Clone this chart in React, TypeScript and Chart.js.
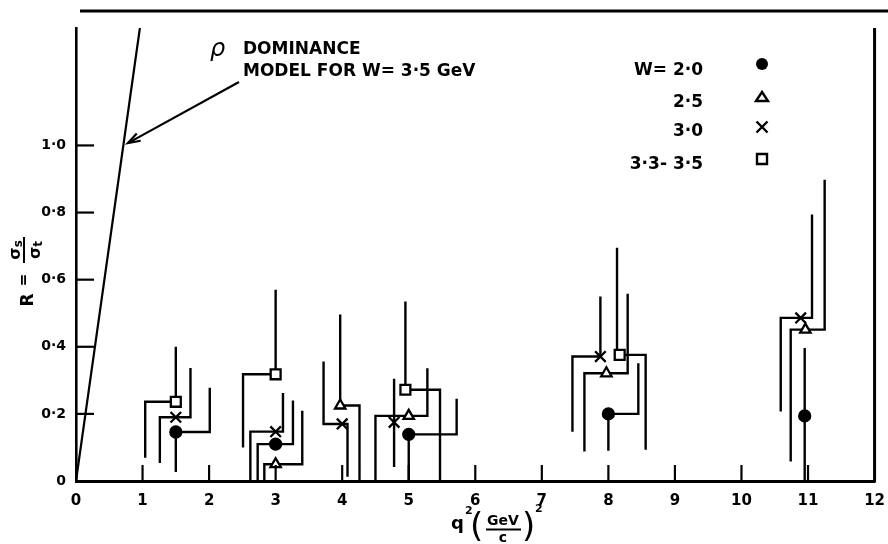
import React, { useEffect, useRef } from "react";
import { Chart, registerables } from "chart.js";

Chart.register(...registerables);

const FONT = '"DejaVu Sans", "Liberation Sans", sans-serif';

// axes
const X_TICKS = [0, 1, 2, 3, 4, 5, 6, 7, 8, 9, 10, 11, 12];
const Y_TICKS = [0, 0.2, 0.4, 0.6, 0.8, 1.0];
const Y_TICK_LABELS = ["0", "0·2", "0·4", "0·6", "0·8", "1·0"];
const X_RANGE = [0, 12];
const Y_RANGE = [0, 1.35];

// W = 2.0 (filled circles): value, upper / lower error ends and the q at which each bar is drawn
const w20Q = [1.5, 3.0, 5.0, 8.0, 10.95];
const w20R = [0.146, 0.11, 0.139, 0.2, 0.194];
const w20Hi = [0.278, 0.24, 0.245, 0.351, 0.396];
const w20HiQ = [2.01, 3.26, 5.72, 8.45, 10.95];
const w20Lo = [0.027, 0, 0, 0.09, 0];
const w20LoQ = [1.5, 2.73, 5.0, 8.0, 10.95];

// W = 2.5 (open triangles)
const w25Q = [3.0, 3.97, 5.0, 7.97, 10.96];
const w25R = [0.05, 0.225, 0.194, 0.321, 0.451];
const w25Hi = [0.209, 0.496, 0.336, 0.558, 0.898];
const w25HiQ = [3.4, 3.97, 5.28, 8.29, 11.25];
const w25Lo = [0, 0, 0, 0.088, 0.058];
const w25LoQ = [2.83, 4.26, 4.5, 7.64, 10.74];

// W = 3.0 (crosses)
const w30Q = [1.5, 3.0, 4.0, 4.78, 7.88, 10.89];
const w30R = [0.19, 0.147, 0.17, 0.175, 0.371, 0.486];
const w30Hi = [0.337, 0.262, 0.356, 0.305, 0.55, 0.794];
const w30HiQ = [1.72, 3.11, 3.72, 4.78, 7.88, 11.06];
const w30Lo = [0.054, 0, 0.013, 0.042, 0.147, 0.207];
const w30LoQ = [1.26, 2.62, 4.08, 4.78, 7.46, 10.59];

// W = 3.3 - 3.5 (open squares)
const w35Q = [1.5, 3.0, 4.95, 8.17];
const w35R = [0.236, 0.318, 0.272, 0.376];
const w35Hi = [0.4, 0.57, 0.535, 0.695];
const w35HiQ = [1.5, 3.0, 4.95, 8.13];
const w35Lo = [0.069, 0.1, 0, 0.093];
const w35LoQ = [1.04, 2.51, 5.47, 8.56];

// rho dominance model for W = 3.5 GeV
const rhoQ = [0, 0.96];
const rhoR = [0, 1.35];

// legend
const LEGEND_LABELS = ["W= 2·0", "2·5", "3·0", "3·3- 3·5"];
const LEGEND_SHAPES = ["circle", "triangle", "cross", "square"];

type Pt = { x: number; y: number | null };

function barPath(q: number[], r: number[], hi: number[], hiQ: number[], lo: number[], loQ: number[]): Pt[] {
  const pts: Pt[] = [];
  for (let i = 0; i < q.length; i++) {
    pts.push({ x: hiQ[i], y: hi[i] });
    pts.push({ x: hiQ[i], y: r[i] });
    pts.push({ x: loQ[i], y: r[i] });
    pts.push({ x: loQ[i], y: lo[i] });
    pts.push({ x: loQ[i], y: null });
  }
  return pts;
}

function markers(q: number[], r: number[]): Pt[] {
  return q.map((v, i) => ({ x: v, y: r[i] }));
}

function drawShape(ctx: CanvasRenderingContext2D, shape: string, x: number, y: number) {
  ctx.save();
  ctx.strokeStyle = "#000";
  ctx.fillStyle = "#000";
  ctx.lineWidth = 2.4;
  ctx.beginPath();
  if (shape === "circle") {
    ctx.arc(x, y, 6, 0, Math.PI * 2);
    ctx.fill();
  } else if (shape === "triangle") {
    ctx.moveTo(x - 6, y + 4);
    ctx.lineTo(x + 6, y + 4);
    ctx.lineTo(x, y - 5);
    ctx.closePath();
    ctx.fillStyle = "#fff";
    ctx.fill();
    ctx.stroke();
  } else if (shape === "cross") {
    ctx.moveTo(x - 5.5, y - 5.5);
    ctx.lineTo(x + 5.5, y + 5.5);
    ctx.moveTo(x + 5.5, y - 5.5);
    ctx.lineTo(x - 5.5, y + 5.5);
    ctx.stroke();
  } else {
    ctx.rect(x - 5, y - 5, 10, 10);
    ctx.fillStyle = "#fff";
    ctx.fill();
    ctx.stroke();
  }
  ctx.restore();
}

function seg(ctx: CanvasRenderingContext2D, x1: number, y1: number, x2: number, y2: number) {
  ctx.beginPath();
  ctx.moveTo(x1, y1);
  ctx.lineTo(x2, y2);
  ctx.stroke();
}

const decorPlugin = {
  id: "decor",
  afterDraw(chart: any) {
    const { ctx, chartArea: a, scales } = chart;
    const xs = scales.x;
    const ys = scales.y;
    ctx.save();
    ctx.strokeStyle = "#000";
    ctx.fillStyle = "#000";

    // top rule and right frame
    ctx.lineWidth = 3.2;
    seg(ctx, a.left + 4, a.top - 17, chart.width, a.top - 17);
    ctx.lineWidth = 3;
    seg(ctx, a.right, a.top, a.right, a.bottom + 1.5);

    // inward ticks
    ctx.lineWidth = 2.2;
    for (const v of X_TICKS) {
      if (v <= X_RANGE[0] || v >= X_RANGE[1]) continue;
      const px = xs.getPixelForValue(v);
      seg(ctx, px, a.bottom, px, a.bottom - 16);
    }
    for (const v of Y_TICKS) {
      if (v <= 0) continue;
      const py = ys.getPixelForValue(v);
      seg(ctx, a.left, py, a.left + 18, py);
    }

    // rho dominance annotation
    ctx.textBaseline = "alphabetic";
    ctx.textAlign = "left";
    ctx.font = `italic 24px ${FONT}`;
    ctx.fillText("ρ", a.left + 134, a.top + 28);
    ctx.font = `bold 17px ${FONT}`;
    ctx.fillText("DOMINANCE", a.left + 167, a.top + 26);
    ctx.fillText("MODEL FOR W= 3·5 GeV", a.left + 167, a.top + 48);

    // arrow
    const tipX = xs.getPixelForValue(0.78);
    const tipY = ys.getPixelForValue(1.007);
    const tailX = a.left + 163;
    const tailY = a.top + 54;
    ctx.lineWidth = 2.2;
    seg(ctx, tailX, tailY, tipX, tipY);
    const ang = Math.atan2(tailY - tipY, tailX - tipX);
    ctx.beginPath();
    ctx.moveTo(tipX + 13 * Math.cos(ang + 0.32), tipY + 13 * Math.sin(ang + 0.32));
    ctx.lineTo(tipX, tipY);
    ctx.lineTo(tipX + 13 * Math.cos(ang - 0.32), tipY + 13 * Math.sin(ang - 0.32));
    ctx.stroke();

    // legend
    const baselines = [75, 107, 136, 169];
    const markY = [64, 97, 127, 159];
    ctx.font = `bold 17px ${FONT}`;
    ctx.textAlign = "right";
    LEGEND_LABELS.forEach((lab, i) => {
      ctx.fillText(lab, 703, baselines[i]);
      drawShape(ctx, LEGEND_SHAPES[i], 762, markY[i]);
    });

    // x axis title: q²(GeV/c)²
    ctx.textAlign = "left";
    ctx.font = `bold 18px ${FONT}`;
    ctx.fillText("q", 451, 529);
    ctx.font = `bold 11px ${FONT}`;
    ctx.fillText("2", 465, 514);
    ctx.font = `34px ${FONT}`;
    ctx.fillText("(", 470, 537);
    ctx.fillText(")", 522, 537);
    ctx.font = `bold 11px ${FONT}`;
    ctx.fillText("2", 535, 512);
    ctx.textAlign = "center";
    ctx.font = `bold 14px ${FONT}`;
    ctx.fillText("GeV", 503, 525);
    ctx.fillText("c", 503, 542);
    ctx.lineWidth = 2;
    seg(ctx, 486, 529.5, 521, 529.5);

    // y axis title: R = σs / σt (rotated)
    ctx.save();
    ctx.translate(24, 270);
    ctx.rotate(-Math.PI / 2);
    ctx.textAlign = "center";
    ctx.font = `bold 17px ${FONT}`;
    ctx.fillText("R", -30, 9);
    ctx.font = `bold 15px ${FONT}`;
    ctx.textBaseline = "middle";
    ctx.fillText("=", -10, 0);
    ctx.textBaseline = "alphabetic";
    ctx.lineWidth = 2;
    seg(ctx, 7, 0, 33, 0);
    const frac = (sub: string, base: number) => {
      ctx.font = `bold 16px ${FONT}`;
      const w1 = ctx.measureText("σ").width;
      ctx.font = `bold 12px ${FONT}`;
      const w2 = ctx.measureText(sub).width;
      const start = 20 - (w1 + w2) / 2;
      ctx.textAlign = "left";
      ctx.font = `bold 16px ${FONT}`;
      ctx.fillText("σ", start, base);
      ctx.font = `bold 12px ${FONT}`;
      ctx.fillText(sub, start + w1, base + 2);
    };
    frac("s", -4);
    frac("t", 16);
    ctx.restore();

    ctx.restore();
  },
};

export default function App() {
  const ref = useRef<HTMLCanvasElement>(null);

  useEffect(() => {
    if (!ref.current) return;
    const lineDs = (data: Pt[]) => ({
      type: "scatter" as const,
      data,
      showLine: true,
      spanGaps: false,
      borderColor: "#000",
      borderWidth: 2.4,
      pointRadius: 0,
      pointHoverRadius: 0,
      order: 2,
    });
    const markDs = (data: Pt[], style: string, radius: number, fill: string) => ({
      type: "scatter" as const,
      data,
      showLine: false,
      pointStyle: style,
      pointRadius: radius,
      pointHoverRadius: radius,
      pointBackgroundColor: fill,
      pointBorderColor: "#000",
      pointBorderWidth: 2.3,
      order: 1,
    });

    const chart = new Chart(ref.current, {
      type: "scatter",
      data: {
        datasets: [
          {
            ...lineDs(rhoQ.map((q, i) => ({ x: q, y: rhoR[i] }))),
            borderWidth: 2.2,
          },
          lineDs(barPath(w20Q, w20R, w20Hi, w20HiQ, w20Lo, w20LoQ)),
          lineDs(barPath(w25Q, w25R, w25Hi, w25HiQ, w25Lo, w25LoQ)),
          lineDs(barPath(w30Q, w30R, w30Hi, w30HiQ, w30Lo, w30LoQ)),
          lineDs(barPath(w35Q, w35R, w35Hi, w35HiQ, w35Lo, w35LoQ)),
          markDs(markers(w20Q, w20R), "circle", 5.5, "#000"),
          markDs(markers(w25Q, w25R), "triangle", 6, "#fff"),
          markDs(markers(w30Q, w30R), "crossRot", 7.5, "#000"),
          markDs(markers(w35Q, w35R), "rect", 7, "#fff"),
        ] as any,
      },
      options: {
        responsive: false,
        animation: false,
        events: [],
        layout: { padding: { top: 28, right: 10, left: 0, bottom: 0 } },
        plugins: {
          legend: { display: false },
          tooltip: { enabled: false },
          title: { display: false },
        },
        scales: {
          x: {
            type: "linear",
            min: X_RANGE[0],
            max: X_RANGE[1],
            grid: { display: false },
            border: { display: true, color: "#000", width: 3 },
            afterBuildTicks: (scale: any) => {
              scale.ticks = X_TICKS.map((value) => ({ value }));
            },
            afterFit: (scale: any) => {
              scale.height = 63;
            },
            ticks: {
              autoSkip: false,
              maxRotation: 0,
              padding: 3,
              color: "#000",
              font: { family: FONT, size: 15, weight: "bold" },
              callback: (v: any) => String(v),
            },
          },
          y: {
            type: "linear",
            min: Y_RANGE[0],
            max: Y_RANGE[1],
            grid: { display: false },
            border: { display: true, color: "#000", width: 2.6 },
            afterBuildTicks: (scale: any) => {
              scale.ticks = Y_TICKS.map((value) => ({ value }));
            },
            afterFit: (scale: any) => {
              scale.width = 76;
            },
            ticks: {
              padding: 2,
              color: "#000",
              font: { family: FONT, size: 14, weight: "bold" },
              callback: (v: any) => {
                const i = Y_TICKS.findIndex((t) => Math.abs(t - Number(v)) < 1e-9);
                return i >= 0 ? Y_TICK_LABELS[i] : "";
              },
            },
          },
        },
      } as any,
      plugins: [decorPlugin],
    });
    return () => chart.destroy();
  }, []);

  return (
    <div style={{ position: "absolute", left: 0, top: 0, width: 888, height: 544, background: "#fff" }}>
      <canvas ref={ref} width={888} height={544} style={{ display: "block", width: 888, height: 544 }} />
    </div>
  );
}
